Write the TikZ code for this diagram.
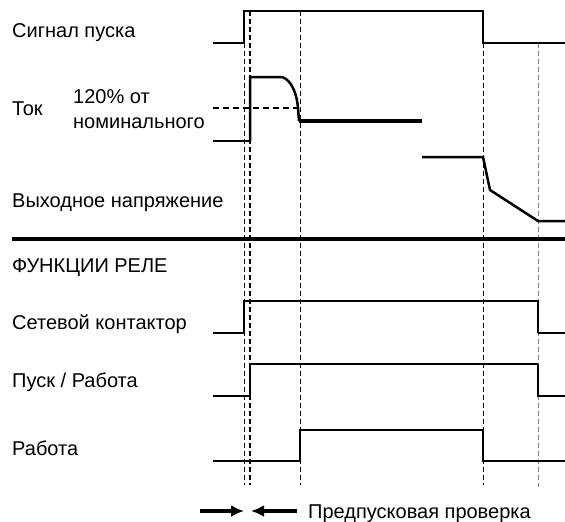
\documentclass[tikz,border=0pt]{standalone}
\usepackage{fontspec}
\setmainfont{Liberation Sans}
\usetikzlibrary{arrows.meta}
\begin{document}
\begin{tikzpicture}[x=1pt,y=-1pt,
    lbl/.style={anchor=base west,inner sep=0pt,font=\fontsize{20}{24}\selectfont},
    sig/.style={line width=2.5pt},
    thinsig/.style={line width=1.3pt},
    guide/.style={line width=1pt,dash pattern=on 5pt off 3pt},
    guidethick/.style={line width=2.6pt,dash pattern=on 5pt off 3pt},
    bar/.style={line width=4pt}]
  \useasboundingbox (0,0) rectangle (565,522);
  \draw
    (12,37) node[lbl] (sig){Сигнал пуска}
    (12,115) node[lbl] (cur){Ток}
    (73,103) node[lbl] (pct){120\% от}
    (73,128) node[lbl] (nom){номинального}
    (12,207) node[lbl] (vout){Выходное напряжение}
    (12,272) node[lbl] (rel){ФУНКЦИИ РЕЛЕ}
    (12,329) node[lbl] (net){Сетевой контактор}
    (12,387) node[lbl] (strun){Пуск / Работа}
    (12,455) node[lbl] (run){Работа}
    (308,518) node[lbl] (pre){Предпусковая проверка};
  \begin{scope}[guide]
    \draw (244,43) -- (244,485);
    \draw (300,11) -- (300,485);
    \draw (483,43) -- (483,485);
    \draw[gray] (538,43) -- (538,487);
  \end{scope}
  \draw[guidethick] (250,11) -- (250,485);
  \draw[line width=2pt] (213,43) -- (244,43) -- (244,11) -- (483,11) -- (483,43) -- (565,43);
  \draw[thinsig] (213,141) -- (250,141);
  \draw[sig] (250,141) -- (250,77) -- (282,77)
    .. controls (292,80) and (297,95) .. (298,108) -- (299,121);
  \draw[line width=3.5pt] (299,121) -- (422,121);
  \draw[line width=2pt,dash pattern=on 6pt off 4pt] (213,108) -- (300,108);
  \draw[sig] (422,157) -- (483,157) -- (490,190) -- (538,221) -- (565,221);
  \draw[bar] (12,239) -- (565,239);
  \draw[sig] (213,333) -- (244,333);
  \draw[thinsig] (244,333) -- (244,301) -- (538,301) -- (538,333);
  \draw[sig] (538,333) -- (565,333);
  \draw[thinsig] (213,396) -- (250,396);
  \draw[sig] (250,396) -- (250,364) -- (538,364);
  \draw[thinsig] (538,364) -- (538,396) -- (565,396);
  \draw[sig] (213,461) -- (300,461) -- (300,430) -- (483,430) -- (483,461) -- (565,461);
  \coordinate (la) at (200,511);
  \coordinate (lb) at (244,511);
  \coordinate (ra) at (297,511);
  \coordinate (rb) at (251,511);
  \begin{scope}[line width=3.5pt,-{Latex[length=13pt,width=12pt]}]
    \draw (la) -- (lb);
    \draw (ra) -- (rb);
  \end{scope}
\end{tikzpicture}
\end{document}
